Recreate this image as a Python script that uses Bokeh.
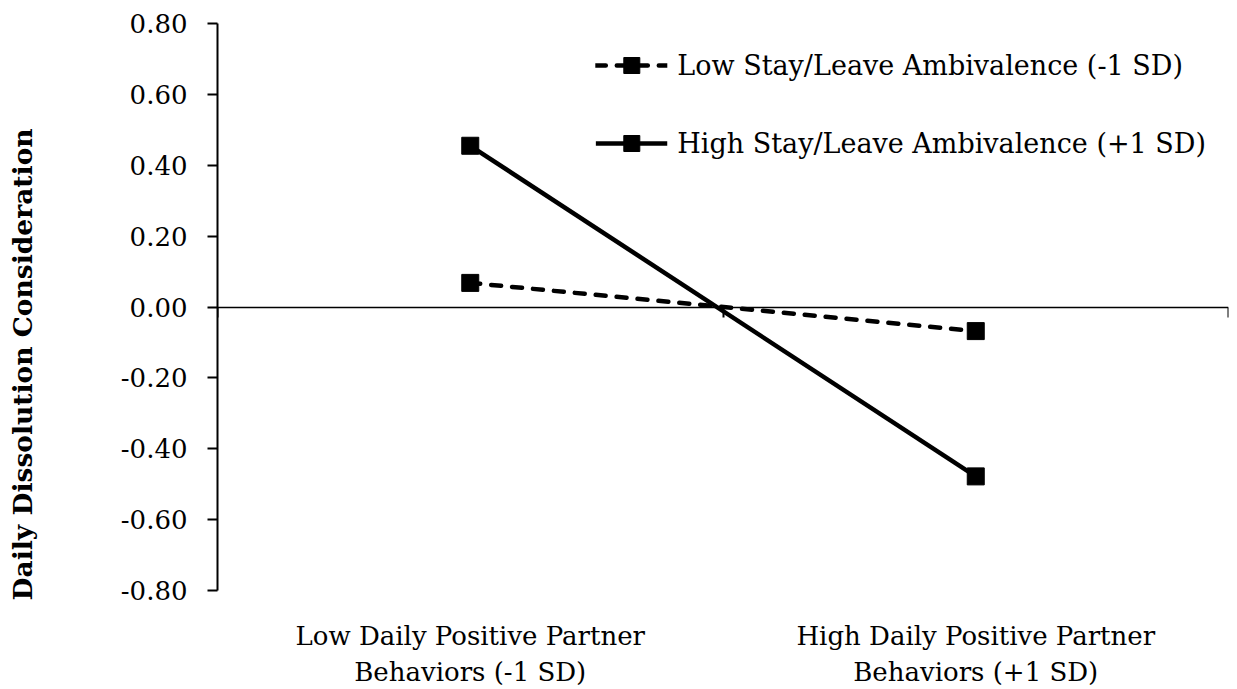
from bokeh.plotting import figure
from bokeh.models import (Range1d, FactorRange, FixedTicker, LinearAxis, Title,
                          Legend, LegendItem, NumeralTickFormatter)
from bokeh.embed import file_html
from bokeh.resources import INLINE

# ---- data ----
categories = ["Low Daily Positive Partner\nBehaviors (-1 SD)",
              "High Daily Positive Partner\nBehaviors (+1 SD)"]
low_ambivalence = [0.068, -0.068]
high_ambivalence = [0.455, -0.478]
series_names = ["Low Stay/Leave Ambivalence (-1 SD)",
                "High Stay/Leave Ambivalence (+1 SD)"]
y_ticks = [-0.8, -0.6, -0.4, -0.2, 0.0, 0.2, 0.4, 0.6, 0.8]
y_title = "Daily Dissolution Consideration"

FONT = "DejaVu Serif"
FS = "26px"

p = figure(width=1233, height=689, x_range=FactorRange(*categories),
           y_range=Range1d(-0.8, 0.8), output_backend="svg",
           toolbar_location=None, min_border_left=217, min_border_right=5,
           min_border_top=23, min_border_bottom=95)
p.outline_line_color = None
p.xgrid.visible = False
p.ygrid.visible = False
p.background_fill_color = "white"

# y axis
ya = p.yaxis[0]
ya.ticker = FixedTicker(ticks=y_ticks)
ya.formatter = NumeralTickFormatter(format="0.00")
ya.major_tick_out = 10
ya.major_tick_in = 0
ya.minor_tick_out = 0
ya.minor_tick_in = 0
ya.major_label_standoff = 20
ya.axis_line_width = 2
ya.major_tick_line_width = 2
ya.axis_line_color = "black"
ya.major_tick_line_color = "black"
ya.major_label_text_font = FONT
ya.major_label_text_font_size = FS
ya.major_label_text_color = "black"
# blank spacer label pushes the title outward
ya.axis_label = " "
ya.axis_label_text_font_size = "1px"
ya.axis_label_standoff = 76

# bottom category labels
xa = p.xaxis[0]
xa.axis_line_color = None
xa.major_tick_line_color = None
xa.minor_tick_line_color = None
xa.major_label_standoff = 24
xa.major_label_text_font = FONT
xa.major_label_text_font_size = FS
xa.major_label_text_color = "black"
xa.major_label_orientation = "horizontal"

# zero line axis with ticks between categories
zero_axis = LinearAxis(fixed_location=0,
                       ticker=FixedTicker(ticks=list(range(len(categories) + 1))))
zero_axis.axis_line_width = 1.5
zero_axis.axis_line_color = "black"
zero_axis.major_tick_line_color = "black"
zero_axis.major_tick_line_width = 2
zero_axis.major_tick_out = 10
zero_axis.major_tick_in = 0
zero_axis.minor_tick_line_color = None
zero_axis.major_label_text_alpha = 0
zero_axis.major_label_text_font_size = "1px"
p.add_layout(zero_axis, "below")

# series
r1l = p.line(categories, low_ambivalence, line_color="black", line_width=4.5,
             line_dash="10 11", line_cap="round")
r1m = p.scatter(categories, low_ambivalence, marker="square", size=17,
                fill_color="black", line_color="black")
r2l = p.line(categories, high_ambivalence, line_color="black", line_width=4.5)
r2m = p.scatter(categories, high_ambivalence, marker="square", size=17,
                fill_color="black", line_color="black")

legend = Legend(items=[LegendItem(label=series_names[0], renderers=[r1l, r1m]),
                       LegendItem(label=series_names[1], renderers=[r2l, r2m])],
                location="top_right")
legend.border_line_color = None
legend.background_fill_alpha = 0
legend.label_text_font = FONT
legend.label_text_font_size = "27px"
legend.label_text_color = "black"
legend.glyph_width = 72
legend.glyph_height = 40
legend.label_standoff = 10
legend.spacing = 38
legend.margin = 22
legend.padding = 28
p.add_layout(legend)

# y-axis title
ttl = Title(text=y_title, align="left", offset=-10, standoff=0,
            text_font=FONT, text_font_size="26.5px", text_font_style="bold",
            text_color="black")
p.add_layout(ttl, "left")

open("out.html", "w").write(file_html(p, INLINE))
